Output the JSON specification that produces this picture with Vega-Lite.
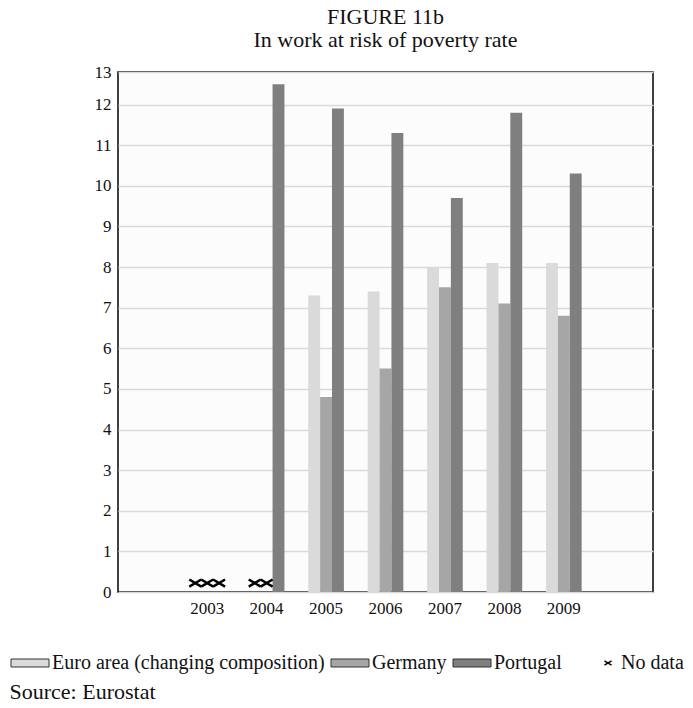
{
  "$schema": "https://vega.github.io/schema/vega-lite/v6.json",
  "width": 535,
  "height": 520,
  "autosize": {"type": "none"},
  "padding": {"left": 118, "top": 72, "right": 40, "bottom": 116},
  "background": "white",
  "title": {
    "text": ["FIGURE 11b", "In work at risk of poverty rate"],
    "font": "Liberation Serif",
    "fontSize": 22,
    "fontWeight": "normal",
    "color": "#111111",
    "lineHeight": 23,
    "anchor": "middle",
    "offset": 11
  },
  "config": {
    "view": {"stroke": "black", "strokeWidth": 1.5, "fill": "#fcfcfc"},
    "font": "Liberation Serif",
    "axisX": {
      "labelAngle": 0,
      "labelFont": "Liberation Serif",
      "labelFontSize": 17,
      "labelColor": "#111111",
      "labelPadding": 8,
      "ticks": false,
      "domain": false,
      "grid": false,
      "titleFont": "Liberation Serif",
      "titleFontSize": 22,
      "titleFontWeight": "normal",
      "titleColor": "#111111",
      "titleAnchor": "start",
      "titleAlign": "left",
      "titleBaseline": "alphabetic",
      "titleX": -109,
      "titleY": 106
    },
    "axisY": {
      "labelOverlap": false,
      "labelFont": "Liberation Serif",
      "labelFontSize": 17,
      "labelColor": "#111111",
      "labelPadding": 7,
      "ticks": false,
      "domain": false,
      "grid": true,
      "gridColor": "#d9d9d9",
      "gridWidth": 1.5
    }
  },
  "datasets": {
    "rates": [
      {"year": "2004", "series": "Portugal", "rate": 12.5},
      {"year": "2005", "series": "Euro area (changing composition)", "rate": 7.3},
      {"year": "2005", "series": "Germany", "rate": 4.8},
      {"year": "2005", "series": "Portugal", "rate": 11.9},
      {"year": "2006", "series": "Euro area (changing composition)", "rate": 7.4},
      {"year": "2006", "series": "Germany", "rate": 5.5},
      {"year": "2006", "series": "Portugal", "rate": 11.3},
      {"year": "2007", "series": "Euro area (changing composition)", "rate": 8.0},
      {"year": "2007", "series": "Germany", "rate": 7.5},
      {"year": "2007", "series": "Portugal", "rate": 9.7},
      {"year": "2008", "series": "Euro area (changing composition)", "rate": 8.1},
      {"year": "2008", "series": "Germany", "rate": 7.1},
      {"year": "2008", "series": "Portugal", "rate": 11.8},
      {"year": "2009", "series": "Euro area (changing composition)", "rate": 8.1},
      {"year": "2009", "series": "Germany", "rate": 6.8},
      {"year": "2009", "series": "Portugal", "rate": 10.3}
    ],
    "missing": [
      {"year": "2003", "series": "Euro area (changing composition)", "status": "No data"},
      {"year": "2003", "series": "Germany", "status": "No data"},
      {"year": "2003", "series": "Portugal", "status": "No data"},
      {"year": "2004", "series": "Euro area (changing composition)", "status": "No data"},
      {"year": "2004", "series": "Germany", "status": "No data"}
    ]
  },
  "layer": [
    {
      "data": {"name": "rates"},
      "mark": {"type": "bar"},
      "encoding": {
        "x": {
          "field": "year",
          "type": "nominal",
          "scale": {"domain": ["2003", "2004", "2005", "2006", "2007", "2008", "2009"], "paddingInner": 0, "paddingOuter": 1},
          "axis": {"title": "Source: Eurostat"}
        },
        "xOffset": {
          "field": "series",
          "type": "nominal",
          "scale": {"domain": ["Euro area (changing composition)", "Germany", "Portugal"], "paddingInner": 0, "paddingOuter": 1}
        },
        "y": {
          "field": "rate",
          "type": "quantitative",
          "scale": {"domain": [0, 12.8], "nice": false, "zero": true},
          "axis": {
            "title": null,
            "values": [0, 1, 2, 3, 4, 5, 6, 7, 8, 9, 10, 11, 12, 12.8],
            "labelExpr": "datum.value > 12.5 ? '13' : datum.label"
          }
        },
        "color": {
          "field": "series",
          "type": "nominal",
          "scale": {
            "domain": ["Euro area (changing composition)", "Germany", "Portugal"],
            "range": ["#dadada", "#a6a6a6", "#7f7f7f"]
          },
          "legend": {
            "title": null,
            "orient": "none",
            "direction": "horizontal",
            "legendX": -113,
            "legendY": 581,
            "symbolType": "M-1,-1H8.5V1H-1Z",
            "symbolSize": 64,
            "symbolStrokeColor": "#333333",
            "symbolStrokeWidth": 1,
            "labelFont": "Liberation Serif",
            "labelFontSize": 20,
            "labelColor": "#111111",
            "labelOffset": 27,
            "labelLimit": 400,
            "columnPadding": -3
          }
        }
      }
    },
    {
      "data": {"name": "missing"},
      "mark": {"type": "point", "filled": false, "strokeWidth": 2.5, "color": "black", "opacity": 1},
      "encoding": {
        "x": {
          "field": "year",
          "type": "nominal",
          "axis": {"title": "Source: Eurostat"}
        },
        "xOffset": {"field": "series", "type": "nominal"},
        "y": {
          "datum": 0.22,
          "type": "quantitative",
          "axis": {
            "title": null,
            "values": [0, 1, 2, 3, 4, 5, 6, 7, 8, 9, 10, 11, 12, 12.8],
            "labelExpr": "datum.value > 12.5 ? '13' : datum.label"
          }
        },
        "size": {"value": 144},
        "shape": {
          "field": "status",
          "type": "nominal",
          "scale": {"domain": ["No data"], "range": ["M-1,-0.6L1,0.6M-1,0.6L1,-0.6"]},
          "legend": {
            "title": null,
            "orient": "none",
            "legendX": 480,
            "legendY": 581,
            "symbolSize": 50,
            "symbolStrokeWidth": 1.5,
            "symbolStrokeColor": "black",
            "labelFont": "Liberation Serif",
            "labelFontSize": 20,
            "labelColor": "#111111",
            "labelOffset": 3
          }
        }
      }
    }
  ]
}
